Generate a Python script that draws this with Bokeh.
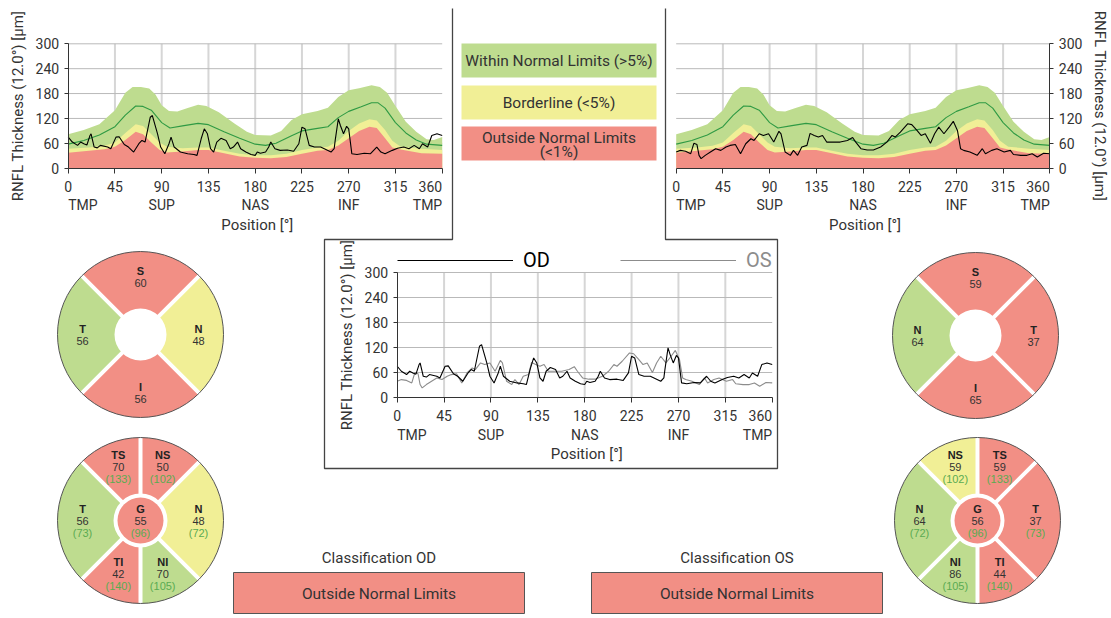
import math
from bokeh.plotting import figure
from bokeh.models import Range1d, LinearAxis, FixedTicker, Legend, LegendItem
from bokeh.core.properties import value
from bokeh.embed import file_html
from bokeh.resources import INLINE

# ---------------- data ----------------
position_ticks = [0, 45, 90, 135, 180, 225, 270, 315, 360]
sector_ticks = [0, 90, 180, 270, 360]
sector_names = ["TMP", "SUP", "NAS", "INF", "TMP"]
thickness_ticks = [0, 60, 120, 180, 240, 300]
y_title = "RNFL Thickness (12.0°) [µm]"
x_title = "Position [°]"

# normative limits (95th percentile top of green, mean, 5% and 1% limits)
norm_p95_deg = [0, 15, 30, 45, 55, 62, 70, 78, 84, 90, 97, 105, 115, 125, 133, 145, 160, 172, 180,
                195, 205, 215, 225, 240, 250, 260, 270, 280, 292, 300, 307, 315, 325, 335, 345, 352, 360]
norm_p95 = [82, 92, 106, 140, 182, 196, 196, 192, 178, 152, 138, 137, 145, 153, 150, 135, 108, 88, 80,
            79, 90, 116, 130, 138, 146, 172, 188, 193, 200, 196, 182, 150, 112, 88, 70, 68, 75]
norm_mean_deg = [0, 15, 30, 45, 55, 65, 72, 80, 90, 98, 110, 125, 135, 150, 165, 180, 190, 200, 215,
                 225, 240, 250, 260, 270, 282, 292, 298, 305, 315, 325, 335, 345, 360]
norm_mean = [58, 67, 80, 100, 128, 150, 149, 140, 110, 97, 102, 108, 105, 88, 72, 58, 55, 60, 78,
             90, 96, 100, 122, 137, 148, 158, 158, 145, 110, 85, 68, 58, 55]
norm_lim_deg = [0, 20, 35, 45, 55, 65, 72, 80, 88, 95, 110, 125, 135, 150, 165, 180, 195, 210, 225,
                240, 250, 260, 270, 280, 290, 297, 305, 312, 320, 340, 360]
norm_p5 = [47, 50, 54, 62, 85, 106, 102, 82, 62, 52, 48, 50, 50, 42, 35, 31, 31, 35, 44,
           50, 52, 66, 90, 108, 118, 115, 92, 66, 52, 47, 44]
norm_p1 = [37, 42, 46, 52, 68, 88, 82, 62, 44, 38, 40, 44, 44, 36, 28, 25, 24, 27, 35,
           42, 44, 55, 72, 90, 100, 97, 72, 50, 45, 36, 35]

od_deg = [0, 4, 9, 12, 15, 18, 21, 22, 25, 28, 31, 38, 41, 46, 49, 54, 58, 63, 68, 71,
          74, 79, 81, 86, 89, 93, 97, 99, 102, 108, 115, 121, 124, 128, 131, 134, 137, 140, 143, 147,
          152, 156, 159, 163, 166, 171, 176, 180, 182, 185, 190, 193, 195, 199, 204, 211, 217, 222, 225, 228,
          232, 237, 243, 249, 253, 256, 257, 260, 262, 265, 268, 270, 273, 278, 285, 291, 297, 301, 305, 312,
          317, 323, 328, 333, 338, 341, 346, 350, 355, 360]
od_thickness = [75, 63, 55, 63, 59, 56, 79, 83, 51, 49, 55, 51, 47, 75, 76, 57, 51, 39, 59, 67,
                63, 123, 127, 83, 51, 35, 59, 75, 51, 39, 35, 33, 31, 71, 95, 83, 47, 39, 63, 72,
                67, 47, 51, 63, 47, 39, 33, 31, 39, 36, 39, 51, 63, 47, 43, 44, 41, 59, 99, 95,
                55, 51, 51, 44, 39, 47, 67, 119, 103, 83, 101, 95, 35, 33, 36, 35, 51, 39, 35, 43,
                48, 51, 47, 55, 47, 59, 51, 79, 83, 79]
os_deg = [0, 4, 9, 14, 17, 20, 22, 24, 28, 33, 38, 43, 48, 52, 57, 62, 67, 72, 75, 80,
          84, 89, 94, 99, 101, 105, 110, 113, 117, 121, 126, 129, 133, 137, 141, 145, 152, 158, 165, 170,
          173, 178, 184, 190, 197, 203, 208, 211, 216, 223, 227, 232, 236, 240, 245, 249, 253, 258, 263, 267,
          271, 274, 277, 283, 290, 295, 298, 304, 309, 316, 322, 325, 332, 338, 343, 348, 354, 360]
os_thickness = [39, 43, 41, 35, 60, 57, 31, 23, 31, 39, 47, 43, 51, 55, 57, 35, 59, 71, 67, 83,
                79, 83, 63, 89, 83, 39, 31, 43, 31, 51, 55, 84, 79, 75, 79, 63, 63, 63, 67, 74,
                63, 47, 44, 44, 51, 63, 79, 75, 87, 107, 105, 91, 79, 83, 60, 83, 99, 83, 99, 113,
                91, 47, 43, 39, 31, 47, 35, 43, 47, 39, 43, 33, 31, 31, 35, 27, 36, 35]

# quadrants, listed counter-clockwise starting at the right-hand quadrant
od_quad_labels = ["N", "S", "T", "I"]
od_quad_values = [48, 60, 56, 56]
od_quad_class = ["borderline", "outside", "within", "outside"]
os_quad_labels = ["T", "S", "N", "I"]
os_quad_values = [37, 59, 64, 65]
os_quad_class = ["outside", "outside", "within", "outside"]

# sectors, counter-clockwise starting at the right-hand sector
od_sector_labels = ["N", "NS", "TS", "T", "TI", "NI"]
od_sector_values = [48, 50, 70, 56, 42, 70]
od_sector_normals = [72, 102, 133, 73, 140, 105]
od_sector_class = ["borderline", "outside", "outside", "within", "outside", "within"]
os_sector_labels = ["T", "TS", "NS", "N", "NI", "TI"]
os_sector_values = [37, 59, 59, 64, 86, 44]
os_sector_normals = [73, 133, 102, 72, 105, 140]
os_sector_class = ["outside", "outside", "borderline", "within", "within", "outside"]
global_label = "G"
od_global = [55, 96, "outside"]
os_global = [56, 96, "outside"]

legend_texts = ["Within Normal Limits (>5%)", "Borderline (<5%)", "Outside Normal Limits", "(<1%)"]
classification_titles = ["Classification OD", "Classification OS"]
classification_results = ["Outside Normal Limits", "Outside Normal Limits"]

# ---------------- style ----------------
W, H = 1111, 618
FONT = "Roboto"
DFONT = "Liberation Sans"
GREEN = "#bedc8f"
YELLOW = "#f1ef96"
RED = "#f28f85"
MEAN = "#2f9a44"
TXT = "#333333"
AX = "#333333"
HGRID = "#b9b9b9"
VGRID = "#d6d6d6"
NORMTXT = "#5aab52"
CLS = {"within": GREEN, "borderline": YELLOW, "outside": RED}

p = figure(width=W, height=H, x_range=Range1d(0, W), y_range=Range1d(0, H),
           x_axis_type=None, y_axis_type=None, toolbar_location=None,
           output_backend="svg", min_border=0, outline_line_color=None)
p.background_fill_color = "white"
p.border_fill_color = "white"


def T(y):
    return H - y


def txt(x, y, t, size="14px", align="center", color=TXT, style="normal", font=FONT, yoff=0, **kw):
    p.text(x=x, y=y, text=t, text_font=value(font), text_font_size=size, text_align=align,
           text_baseline="middle", text_color=color, text_font_style=style, y_offset=yoff, **kw)


def chart(key, fx0, fx1, fy0, fy300, side):
    kx = (fx1 - fx0) / 360.0
    ky = (fy0 - fy300) / 300.0
    p.extra_x_ranges[key] = Range1d(start=-fx0 / kx, end=(W - fx0) / kx)
    p.extra_y_ranges[key] = Range1d(start=(fy0 - H) / ky, end=fy0 / ky)
    kw = dict(x_range_name=key, y_range_name=key)
    gx = position_ticks[1:-1]
    p.segment(x0=gx, y0=[thickness_ticks[0]] * len(gx), x1=gx, y1=[thickness_ticks[-1]] * len(gx),
              line_color=VGRID, line_width=2, **kw)
    gy = thickness_ticks[1:]
    p.segment(x0=[position_ticks[0]] * len(gy), y0=gy, x1=[position_ticks[-1]] * len(gy), y1=gy,
              line_color=HGRID, line_width=1, **kw)
    xa = LinearAxis(fixed_location=0, bounds=(0, 360), ticker=FixedTicker(ticks=position_ticks),
                    major_label_overrides={t: "" for t in position_ticks},
                    axis_line_color=AX, major_tick_line_color=AX, major_tick_out=5, major_tick_in=0,
                    minor_tick_line_color=None, **kw)
    p.add_layout(xa, "below")
    ya = LinearAxis(fixed_location=(360 if side == "right" else 0), bounds=(0, 300),
                    ticker=FixedTicker(ticks=thickness_ticks), axis_label=y_title,
                    axis_label_text_font=FONT, axis_label_text_font_size="15px",
                    axis_label_text_font_style="normal", axis_label_text_color=TXT,
                    major_label_text_font=FONT, major_label_text_font_size="14px",
                    major_label_text_color=TXT, major_tick_out=4, major_tick_in=0,
                    major_label_standoff=5, axis_label_standoff=6,
                    axis_line_color=AX, major_tick_line_color=AX, minor_tick_line_color=None, **kw)
    p.add_layout(ya, side)
    # x tick labels
    n = position_ticks[:-1]
    txt(n, [0] * len(n), [str(t) for t in n], yoff=18, **kw)
    txt([position_ticks[-1]], [0], [str(position_ticks[-1])], align="right", yoff=18, **kw)
    txt([sector_ticks[0]], [0], [sector_names[0]], align="left", yoff=37, **kw)
    txt(sector_ticks[1:-1], [0] * 3, sector_names[1:-1], yoff=37, **kw)
    txt([sector_ticks[-1]], [0], [sector_names[-1]], align="right", yoff=37, **kw)
    txt([182], [0], [x_title], size="15px", yoff=56.5, **kw)
    return kw


def bands(kw):
    p.varea(x=norm_p95_deg, y1=[0] * len(norm_p95), y2=norm_p95, fill_color=GREEN, **kw)
    p.varea(x=norm_lim_deg, y1=[0] * len(norm_p5), y2=norm_p5, fill_color=YELLOW, **kw)
    p.varea(x=norm_lim_deg, y1=[0] * len(norm_p1), y2=norm_p1, fill_color=RED, **kw)
    p.line(norm_mean_deg, norm_mean, line_color=MEAN, line_width=1.1, **kw)


# top-left: OD
kw_od = chart("od", 67.7, 441.7, 167.7, 43.3, "left")
bands(kw_od)
p.line(od_deg, od_thickness, line_color="black", line_width=1.1, **kw_od)

# top-right: OS
kw_os = chart("os", 675.7, 1049.3, 167.7, 43.3, "right")
bands(kw_os)
p.line(os_deg, os_thickness, line_color="black", line_width=1.1, **kw_os)

# middle: both
kw_mid = chart("mid", 396.7, 771.7, 397, 272, "left")
r_os = p.line(os_deg, os_thickness, line_color="#8c8c8c", line_width=1.1, **kw_mid)
r_od = p.line(od_deg, od_thickness, line_color="black", line_width=1.1, **kw_mid)

leg_common = dict(orientation="horizontal", glyph_width=116, glyph_height=20, label_height=20,
                  label_standoff=10, padding=0, margin=0, border_line_color=None,
                  background_fill_alpha=0, label_text_font=FONT, label_text_font_size="20px",
                  label_text_baseline="middle")
p.add_layout(Legend(items=[LegendItem(label="OD", renderers=[r_od])], location=(397, H - 262 - 10),
                    label_text_color="black", **leg_common))
p.add_layout(Legend(items=[LegendItem(label="OS", renderers=[r_os])], location=(620, H - 262 - 10),
                    label_text_color="#8c8c8c", **leg_common))

# frame lines
fx = [452, 452, 324, 324, 777, 777, 665, 665]
fy = [8, 239, 239, 468, 468, 239, 239, 8]
p.line(fx, [T(v) for v in fy], line_color="#444444", line_width=1.3)

# legend boxes
p.quad(left=[461] * 3, right=[656] * 3, top=[T(43), T(85), T(126)], bottom=[T(77), T(119), T(160)],
       fill_color=[GREEN, YELLOW, RED], line_color=None)
txt([558.5], [T(60)], [legend_texts[0]], size="15.5px")
txt([558.5], [T(102)], [legend_texts[1]], size="15.5px")
txt([558.5], [T(137)], [legend_texts[2]], size="15.5px")
txt([558.5], [T(151)], [legend_texts[3]], size="15.5px")

# classification
p.quad(left=[233, 591], right=[524, 882], top=[T(572)] * 2, bottom=[T(613)] * 2,
       fill_color=RED, line_color="#555555", line_width=1)
txt([378.5, 736.5], [T(557)] * 2, classification_titles, size="15px")
txt([378.5, 736.5], [T(593)] * 2, classification_results, size="15.5px")


# donuts
def donut(cx, cy, spans, labels, vals, classes, normals=None, center=None):
    yc = T(cy)
    starts, ends, mids = [], [], []
    a = -45.0
    for s in spans:
        starts.append(a)
        ends.append(a + s)
        mids.append(a + s / 2.0)
        a += s
    r_in = 27 if center else 26
    r_out = 83
    n = len(spans)
    p.annular_wedge(x=[cx] * n, y=[yc] * n, inner_radius=r_in, outer_radius=r_out,
                    start_angle=[math.radians(s) for s in starts],
                    end_angle=[math.radians(e) for e in ends],
                    fill_color=[CLS[c] for c in classes], line_color=None)
    rad = [math.radians(s) for s in starts]
    p.segment(x0=[cx + (r_in - 1) * math.cos(r) for r in rad], y0=[yc + (r_in - 1) * math.sin(r) for r in rad],
              x1=[cx + (r_out + 1) * math.cos(r) for r in rad], y1=[yc + (r_out + 1) * math.sin(r) for r in rad],
              line_color="white", line_width=4)
    p.circle(x=[cx], y=[yc], radius=r_out, fill_color=None, line_color="#555555", line_width=1)
    mr = [math.radians(m) for m in mids]
    tx = [cx + 58 * math.cos(r) for r in mr]
    ty = [yc + 58 * math.sin(r) for r in mr]
    fs = "11px"
    if normals is None:
        txt(tx, ty, labels, size=fs, style="bold", font=DFONT, color="#222222", yoff=-6)
        txt(tx, ty, [str(v) for v in vals], size=fs, font=DFONT, yoff=6)
    else:
        txt(tx, ty, labels, size=fs, style="bold", font=DFONT, color="#222222", yoff=-12)
        txt(tx, ty, [str(v) for v in vals], size=fs, font=DFONT, yoff=0)
        txt(tx, ty, ["(%d)" % v for v in normals], size=fs, font=DFONT, color=NORMTXT, yoff=12)
    if center:
        p.circle(x=[cx], y=[yc], radius=23, fill_color=CLS[center[2]], line_color=None)
        txt([cx], [yc], [global_label], size=fs, style="bold", font=DFONT, color="#222222", yoff=-12)
        txt([cx], [yc], [str(center[0])], size=fs, font=DFONT, yoff=0)
        txt([cx], [yc], ["(%d)" % center[1]], size=fs, font=DFONT, color=NORMTXT, yoff=12)


QUAD = [90, 90, 90, 90]
SECT = [90, 45, 45, 90, 45, 45]
donut(140, 334, QUAD, od_quad_labels, od_quad_values, od_quad_class)
donut(140, 520, SECT, od_sector_labels, od_sector_values, od_sector_class, od_sector_normals, od_global)
donut(975, 335, QUAD, os_quad_labels, os_quad_values, os_quad_class)
donut(977, 520, SECT, os_sector_labels, os_sector_values, os_sector_class, os_sector_normals, os_global)

open("out.html", "w").write(file_html(p, INLINE))
